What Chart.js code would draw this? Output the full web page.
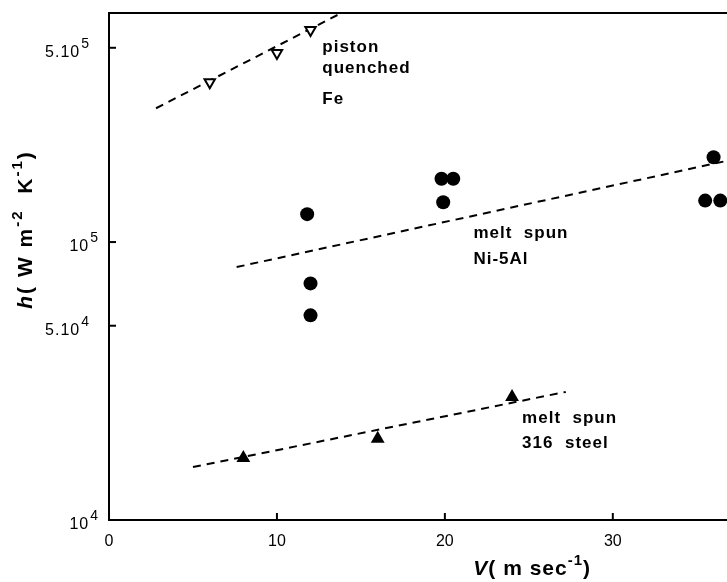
<!DOCTYPE html>
<html>
<head>
<meta charset="utf-8">
<script src="https://cdn.jsdelivr.net/npm/chart.js@4.4.1/dist/chart.umd.min.js"></script>
<style>
  html, body { margin: 0; padding: 0; background: #fff; }
  #wrap { width: 727px; height: 582px; }
</style>
</head>
<body>
<div id="wrap"><canvas id="chart"></canvas></div>
<script>
// piston quenched Fe
const pistonV = [6, 10, 12];
const pistonH = [3.76e5, 4.79e5, 5.79e5];
const pistonFitV = [2.8, 13.9];
const pistonFitH = [3.03e5, 6.7e5];

// melt spun Ni-5Al
const niV = [11.8, 12, 12, 19.8, 20.5, 19.9, 36.0, 35.5, 36.4];
const niH = [1.26e5, 7.1e4, 5.45e4, 1.69e5, 1.69e5, 1.39e5, 2.02e5, 1.41e5, 1.41e5];
const niFitV = [7.6, 36.8];
const niFitH = [8.13e4, 1.96e5];

// melt spun 316 steel
const steelV = [8, 16, 24];
const steelH = [1.67e4, 1.96e4, 2.77e4];
const steelFitV = [5, 27.2];
const steelFitH = [1.55e4, 2.89e4];

const xTicks = [0, 10, 20, 30];
const yTicks = [1e4, 5e4, 1e5, 5e5];
const yTickLabels = ["10^4", "5.10^4", "10^5", "5.10^5"];

const noteText = ["piston", "quenched", "Fe", "melt  spun", "Ni-5Al", "melt  spun", "316  steel"];
const noteV = [12.7, 12.7, 12.7, 21.7, 21.7, 24.6, 24.6];
const noteH = [5.03e5, 4.22e5, 3.27e5, 1.077e5, 8.68e4, 2.33e4, 1.88e4];

const FONT = "'Liberation Sans', Arial, Helvetica, sans-serif";
const toPoints = (xs, ys) => xs.map((x, i) => ({ x: x, y: ys[i] }));

const fitLine = (xs, ys) => ({
  data: toPoints(xs, ys),
  showLine: true,
  borderColor: "#000",
  borderWidth: 2,
  borderDash: [8, 6],
  pointRadius: 0,
  clip: 0,
});

// draws what chart.js can't: inward ticks, superscript labels, frame top, notes
const decorPlugin = {
  id: "decor",
  afterDraw: (chart) => {
    const ctx = chart.ctx;
    const area = chart.chartArea;
    const xs = chart.scales.x;
    const ys = chart.scales.y;
    ctx.save();
    ctx.strokeStyle = "#000";
    ctx.fillStyle = "#000";
    ctx.lineWidth = 2;

    // top frame line
    ctx.beginPath();
    ctx.moveTo(area.left - 1, area.top);
    ctx.lineTo(area.right, area.top);
    ctx.stroke();

    // inward tick marks
    xTicks.slice(1).forEach((v) => {
      const px = xs.getPixelForValue(v);
      ctx.beginPath();
      ctx.moveTo(px, area.bottom);
      ctx.lineTo(px, area.bottom - 7);
      ctx.stroke();
    });
    yTicks.slice(1).forEach((v) => {
      const py = ys.getPixelForValue(v);
      ctx.beginPath();
      ctx.moveTo(area.left, py);
      ctx.lineTo(area.left + 7, py);
      ctx.stroke();
    });

    // y tick labels with exponents
    ctx.letterSpacing = "1px";
    yTicks.forEach((v, i) => {
      const py = ys.getPixelForValue(v);
      const [base, exp] = yTickLabels[i].split("^");
      const right = area.left - (base.startsWith("5.") ? 19 : 10);
      ctx.font = "14px " + FONT;
      const ew = ctx.measureText(exp).width;
      ctx.textAlign = "left";
      ctx.textBaseline = "middle";
      ctx.fillText(exp, right - ew, py - 4);
      ctx.font = "16px " + FONT;
      ctx.textAlign = "right";
      ctx.fillText(base, right - ew - 1, py + 5);
    });

    // annotations
    ctx.font = "bold 17px " + FONT;
    ctx.letterSpacing = "1px";
    ctx.textAlign = "left";
    ctx.textBaseline = "middle";
    noteText.forEach((t, i) => {
      ctx.fillText(t, xs.getPixelForValue(noteV[i]), ys.getPixelForValue(noteH[i]));
    });

    // axis titles built from pieces
    const drawPieces = (pieces, cx, cy) => {
      let total = 0;
      pieces.forEach((p) => {
        ctx.font = p.font;
        p.w = ctx.measureText(p.t).width;
        total += p.w;
      });
      let x = cx - total / 2;
      ctx.textAlign = "left";
      pieces.forEach((p) => {
        ctx.font = p.font;
        ctx.fillText(p.t, x, cy + p.dy);
        x += p.w;
      });
    };
    const big = "bold 21px " + FONT;
    const ital = "italic bold 21px " + FONT;
    const sup = "bold 15px " + FONT;

    ctx.letterSpacing = "2px";
    ctx.save();
    ctx.translate(24, ys.getPixelForValue(1.11e5));
    ctx.rotate(-Math.PI / 2);
    drawPieces([
      { t: "h", font: ital, dy: 2 },
      { t: "( W m", font: big, dy: 2 },
      { t: "-2", font: sup, dy: -6 },
      { t: "  K", font: big, dy: 2 },
      { t: "-1", font: sup, dy: -6 },
      { t: ")", font: big, dy: 2 },
    ], 0, 0);
    ctx.restore();

    ctx.letterSpacing = "1px";
    drawPieces([
      { t: "V", font: ital, dy: 0 },
      { t: "( m sec", font: big, dy: 0 },
      { t: "-1", font: sup, dy: -8 },
      { t: ")", font: big, dy: 0 },
    ], xs.getPixelForValue(25.2), area.bottom + 49);

    ctx.restore();
  },
};

const chart = new Chart(document.querySelector("#chart"), {
  type: "scatter",
  data: {
    datasets: [
      {
        data: toPoints(pistonV, pistonH),
        pointStyle: "triangle",
        rotation: 180,
        pointRadius: 6,
        backgroundColor: "#fff",
        borderColor: "#000",
        borderWidth: 2,
      },
      {
        data: toPoints(niV, niH),
        pointStyle: "circle",
        pointRadius: 7,
        backgroundColor: "#000",
        borderColor: "#000",
        borderWidth: 0,
      },
      {
        data: toPoints(steelV, steelH),
        pointStyle: "triangle",
        pointRadius: 8,
        backgroundColor: "#000",
        borderColor: "#000",
        borderWidth: 0,
      },
      fitLine(pistonFitV, pistonFitH),
      fitLine(niFitV, niFitH),
      fitLine(steelFitV, steelFitH),
    ],
  },
  options: {
    responsive: true,
    maintainAspectRatio: false,
    animation: false,
    layout: { autoPadding: false, padding: { top: 13, left: 0, right: 0, bottom: 0 } },
    plugins: {
      legend: { display: false },
      tooltip: { enabled: false },
    },
    scales: {
      x: {
        type: "linear",
        min: 0,
        max: 36.8,
        afterBuildTicks: (scale) => {
          scale.ticks = xTicks.map((v) => ({ value: v }));
        },
        afterFit: (scale) => {
          scale.height = 62;
        },
        ticks: {
          includeBounds: false,
          padding: 12,
          color: "#000",
          font: { family: FONT, size: 16 },
        },
        grid: { drawOnChartArea: false, drawTicks: false },
        border: { color: "#000", width: 2 },
      },
      y: {
        type: "logarithmic",
        min: 1e4,
        max: 6.67e5,
        afterBuildTicks: (scale) => {
          scale.ticks = yTicks.map((v) => ({ value: v }));
        },
        afterFit: (scale) => {
          scale.width = 109;
        },
        ticks: { display: false },
        grid: { drawOnChartArea: false, drawTicks: false },
        border: { color: "#000", width: 2 },
      },
    },
  },
  plugins: [decorPlugin],
});
</script>
</body>
</html>
